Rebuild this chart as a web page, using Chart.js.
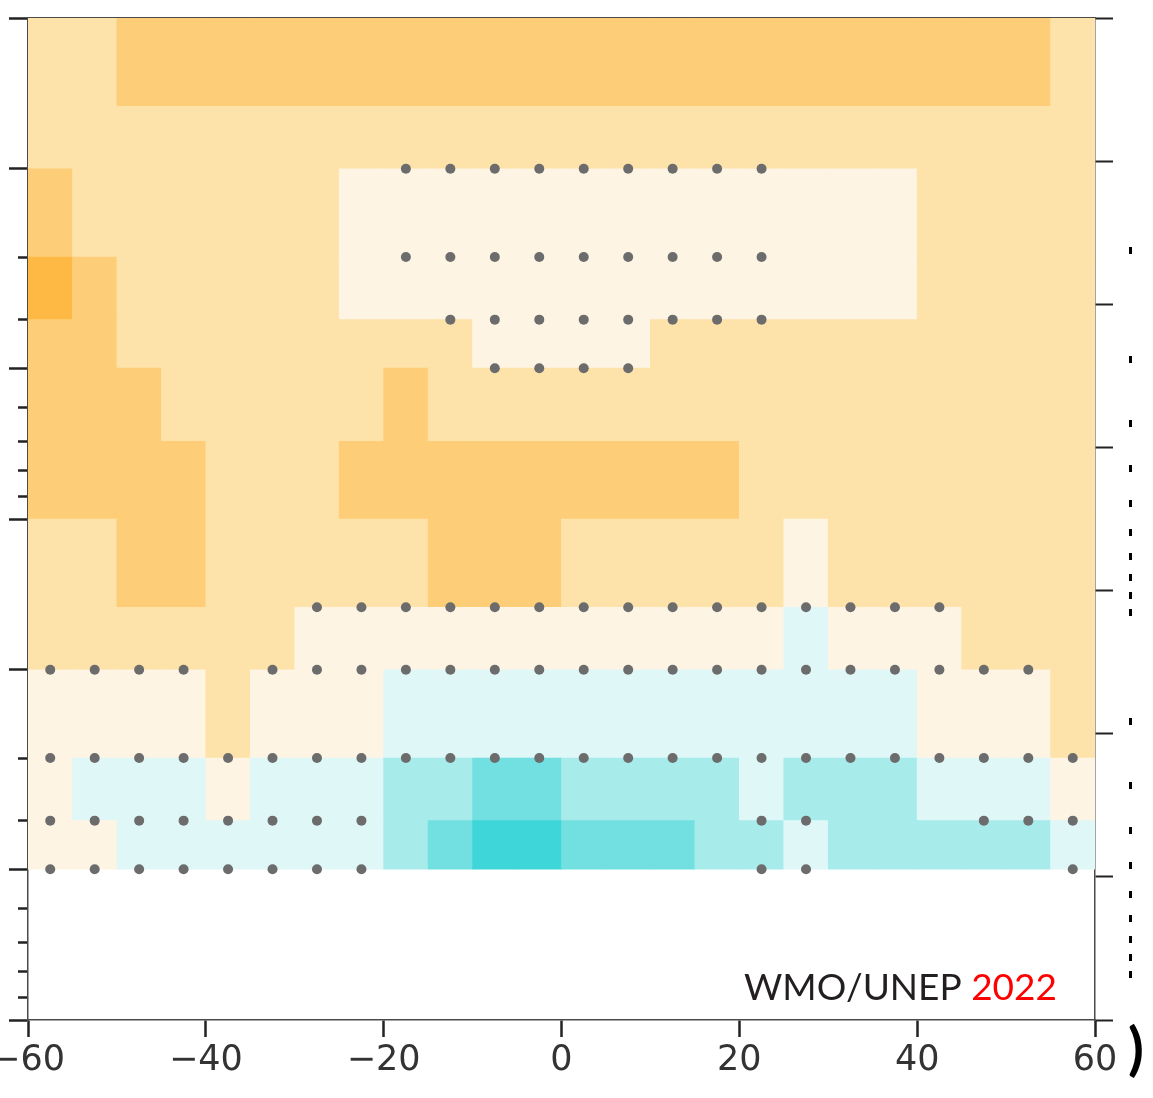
<!DOCTYPE html>
<html>
<head>
<meta charset="utf-8">
<title>Ozone trend, latitude-pressure section</title>
<script src="https://cdn.jsdelivr.net/npm/chart.js@4"></script>
<style>
    html, body { margin: 0; padding: 0; background: #fff; }
    #trendChart { display: block; }
</style>
</head>
<body>
<canvas id="trendChart" width="1153" height="1098"></canvas>
<script>
// latitude band centres, 5 degree bands
var latitudes = [-57.5, -52.5, -47.5, -42.5, -37.5, -32.5, -27.5, -22.5, -17.5, -12.5, -7.5, -2.5,
                 2.5, 7.5, 12.5, 17.5, 22.5, 27.5, 32.5, 37.5, 42.5, 47.5, 52.5, 57.5];

// pressure level edges (hPa), top of the section first
var levels = [1, 1.5, 2, 3, 4, 5, 7, 10, 15, 20, 30, 40, 50];

// trend (%/decade) for each layer, named by the layer top
var lay1 = [1.5, 1.5, 2.5, 2.5, 2.5, 2.5, 2.5, 2.5, 2.5, 2.5, 2.5, 2.5,
            2.5, 2.5, 2.5, 2.5, 2.5, 2.5, 2.5, 2.5, 2.5, 2.5, 2.5, 1.5];
var lay1p5 = [1.5, 1.5, 1.5, 1.5, 1.5, 1.5, 1.5, 1.5, 1.5, 1.5, 1.5, 1.5,
              1.5, 1.5, 1.5, 1.5, 1.5, 1.5, 1.5, 1.5, 1.5, 1.5, 1.5, 1.5];
var lay2 = [2.5, 1.5, 1.5, 1.5, 1.5, 1.5, 1.5, 0.5, 0.5, 0.5, 0.5, 0.5,
            0.5, 0.5, 0.5, 0.5, 0.5, 0.5, 0.5, 0.5, 1.5, 1.5, 1.5, 1.5];
var lay3 = [3.5, 2.5, 1.5, 1.5, 1.5, 1.5, 1.5, 0.5, 0.5, 0.5, 0.5, 0.5,
            0.5, 0.5, 0.5, 0.5, 0.5, 0.5, 0.5, 0.5, 1.5, 1.5, 1.5, 1.5];
var lay4 = [2.5, 2.5, 1.5, 1.5, 1.5, 1.5, 1.5, 1.5, 1.5, 1.5, 0.5, 0.5,
            0.5, 0.5, 1.5, 1.5, 1.5, 1.5, 1.5, 1.5, 1.5, 1.5, 1.5, 1.5];
var lay5 = [2.5, 2.5, 2.5, 1.5, 1.5, 1.5, 1.5, 1.5, 2.5, 1.5, 1.5, 1.5,
            1.5, 1.5, 1.5, 1.5, 1.5, 1.5, 1.5, 1.5, 1.5, 1.5, 1.5, 1.5];
var lay7 = [2.5, 2.5, 2.5, 2.5, 1.5, 1.5, 1.5, 2.5, 2.5, 2.5, 2.5, 2.5,
            2.5, 2.5, 2.5, 2.5, 1.5, 1.5, 1.5, 1.5, 1.5, 1.5, 1.5, 1.5];
var lay10 = [1.5, 1.5, 2.5, 2.5, 1.5, 1.5, 1.5, 1.5, 1.5, 2.5, 2.5, 2.5,
             1.5, 1.5, 1.5, 1.5, 1.5, 0.5, 1.5, 1.5, 1.5, 1.5, 1.5, 1.5];
var lay15 = [1.5, 1.5, 1.5, 1.5, 1.5, 1.5, 0.5, 0.5, 0.5, 0.5, 0.5, 0.5,
             0.5, 0.5, 0.5, 0.5, 0.5, -0.5, 0.5, 0.5, 0.5, 1.5, 1.5, 1.5];
var lay20 = [0.5, 0.5, 0.5, 0.5, 1.5, 0.5, 0.5, 0.5, -0.5, -0.5, -0.5, -0.5,
             -0.5, -0.5, -0.5, -0.5, -0.5, -0.5, -0.5, -0.5, 0.5, 0.5, 0.5, 1.5];
var lay30 = [0.5, -0.5, -0.5, -0.5, 0.5, -0.5, -0.5, -0.5, -1.5, -1.5, -2.5, -2.5,
             -1.5, -1.5, -1.5, -1.5, -0.5, -1.5, -1.5, -1.5, -0.5, -0.5, -0.5, 0.5];
var lay40 = [0.5, 0.5, -0.5, -0.5, -0.5, -0.5, -0.5, -0.5, -1.5, -2.5, -3.5, -3.5,
             -2.5, -2.5, -2.5, -1.5, -1.5, -0.5, -1.5, -1.5, -1.5, -1.5, -1.5, -0.5];
var layers = [lay1, lay1p5, lay2, lay3, lay4, lay5, lay7, lay10, lay15, lay20, lay30, lay40];

// significance flags at pressure levels
var sigLevels = [2, 3, 4, 5, 15, 20, 30, 40, 50];
var sig2  = [0,0,0,0,0,0, 0,0,1,1,1,1, 1,1,1,1,1,0, 0,0,0,0,0,0];
var sig3  = [0,0,0,0,0,0, 0,0,1,1,1,1, 1,1,1,1,1,0, 0,0,0,0,0,0];
var sig4  = [0,0,0,0,0,0, 0,0,0,1,1,1, 1,1,1,1,1,0, 0,0,0,0,0,0];
var sig5  = [0,0,0,0,0,0, 0,0,0,0,1,1, 1,1,0,0,0,0, 0,0,0,0,0,0];
var sig15 = [0,0,0,0,0,0, 1,1,1,1,1,1, 1,1,1,1,1,1, 1,1,1,0,0,0];
var sig20 = [1,1,1,1,0,1, 1,1,1,1,1,1, 1,1,1,1,1,1, 1,1,1,1,1,0];
var sig30 = [1,1,1,1,1,1, 1,1,1,1,1,1, 1,1,1,1,1,1, 1,1,1,1,1,1];
var sig40 = [1,1,1,1,1,1, 1,1,0,0,0,0, 0,0,0,0,1,1, 0,0,0,1,1,1];
var sig50 = [1,1,1,1,1,1, 1,1,0,0,0,0, 0,0,0,0,1,1, 0,0,0,0,0,1];
var sigRows = [sig2, sig3, sig4, sig5, sig15, sig20, sig30, sig40, sig50];

// colour bins
var binEdges = [-3, -2, -1, 0, 1, 2, 3];
var binColours = ['#3fd6d9', '#72dfe1', '#a7ebeb', '#dff7f7', '#fef4e3', '#fde2a9', '#fdcd77', '#fdb944'];

// axis ticks
var latTicks = [-60, -40, -20, 0, 20, 40, 60];
var pMajor = [1, 2, 5, 10, 20, 50, 100];
var pAll = [1, 2, 3, 4, 5, 6, 7, 8, 9, 10, 20, 30, 40, 50, 60, 70, 80, 90, 100];
var kmTicks = [15, 20, 25, 30, 35, 40, 45, 50];
var sideTicks = [1, 2, 3, 4, 5, 6, 7, 8, 9, 10, 20, 30, 40, 50, 60, 70, 80, 90, 100];

function colourFor(v) {
    var i = 0;
    while (i < binEdges.length && v >= binEdges[i]) i++;
    return binColours[i];
}

function asTicks(list) {
    return function (axis) {
        axis.ticks = list.map(function (v) { return {value: v}; });
    };
}

var cells = [], cellColours = [];
layers.forEach(function (row, k) {
    row.forEach(function (v, i) {
        cells.push({x: latitudes[i], y: [levels[k], levels[k + 1]]});
        cellColours.push(colourFor(v));
    });
});

var dots = [];
sigRows.forEach(function (row, k) {
    row.forEach(function (s, i) {
        if (s) dots.push({x: latitudes[i], y: sigLevels[k]});
    });
});

// credit line plus the edge of the next panel (its pressure ticks and bracket)
var extras = {
    id: 'extras',
    afterDraw: function (chart) {
        var ctx = chart.ctx, area = chart.chartArea;
        ctx.save();
        ctx.font = '37px Lato';
        ctx.textBaseline = 'alphabetic';
        ctx.textAlign = 'right';
        var right = area.right - 38, base = area.bottom - 20;
        ctx.fillStyle = '#ff0000';
        ctx.fillText('2022', right, base);
        var w = ctx.measureText('2022').width;
        ctx.fillStyle = '#231f20';
        ctx.fillText('WMO/UNEP ', right - w, base);

        var side = chart.scales.yN, x0 = chart.scales.yR.right + 16;
        ctx.fillStyle = '#000';
        sideTicks.forEach(function (v) {
            ctx.fillRect(x0, Math.round(side.getPixelForValue(v)) - 3, 3, 7);
        });
        ctx.font = 'bold 58px Lato';
        ctx.textAlign = 'left';
        ctx.fillText(')', x0 - 1, area.bottom + 49);
        ctx.restore();
    }
};

var spine = {color: '#4a4a4a', width: 1.5};

new Chart(document.getElementById('trendChart'), {
    type: 'bar',
    data: {
        datasets: [{
            type: 'scatter',
            data: dots,
            pointRadius: 5,
            pointHoverRadius: 5,
            pointBackgroundColor: '#6c6c6c',
            pointBorderWidth: 0,
            order: 0
        }, {
            data: cells,
            backgroundColor: cellColours,
            borderWidth: 0,
            barPercentage: 1,
            categoryPercentage: 1,
            grouped: false,
            order: 1
        }]
    },
    options: {
        responsive: false,
        animation: false,
        events: [],
        layout: {padding: {left: 9, top: 18, right: 40, bottom: 13}, autoPadding: false},
        plugins: {legend: {display: false}, tooltip: {enabled: false}},
        scales: {
            x: {
                type: 'linear', position: 'bottom', min: -60, max: 60, offset: false,
                afterBuildTicks: asTicks(latTicks),
                // let the end labels run past the frame instead of shrinking the plot
                afterFit: function (axis) { axis.paddingLeft = 0; axis.paddingRight = 0; },
                grid: {offset: false, drawOnChartArea: false, tickLength: 17, tickWidth: 2.5, tickColor: '#222'},
                border: spine,
                ticks: {
                    maxRotation: 0, autoSkip: false, padding: 3, color: '#333',
                    font: {family: 'DejaVu Sans', size: 35},
                    callback: function (v) { return v < 0 ? '\u2212' + Math.abs(v) : String(v); }
                }
            },
            xTop: {
                type: 'linear', position: 'top', min: -60, max: 60,
                grid: {display: false, drawTicks: false},
                ticks: {display: false},
                border: spine
            },
            y: {
                type: 'logarithmic', position: 'left', min: 1, max: 100, reverse: true, weight: 0,
                beginAtZero: false,
                afterBuildTicks: asTicks(pAll),
                grid: {drawOnChartArea: false, tickLength: 10, tickWidth: 2.5, tickColor: '#222'},
                ticks: {display: false},
                border: spine
            },
            yMajor: {
                type: 'logarithmic', position: 'left', min: 1, max: 100, reverse: true, weight: 1,
                afterBuildTicks: asTicks(pMajor),
                grid: {drawOnChartArea: false, tickLength: 9, tickWidth: 2.5, tickColor: '#222'},
                ticks: {display: false},
                border: {display: false}
            },
            yR: {
                type: 'linear', position: 'right', min: 15, max: 50,
                afterBuildTicks: asTicks(kmTicks),
                grid: {drawOnChartArea: false, tickLength: 18, tickWidth: 2, tickColor: '#222'},
                ticks: {display: false},
                border: spine
            },
            yN: {
                type: 'logarithmic', position: 'right', display: false,
                min: 0.229, max: 134, reverse: true
            }
        }
    },
    plugins: [extras]
});
</script>
</body>
</html>
